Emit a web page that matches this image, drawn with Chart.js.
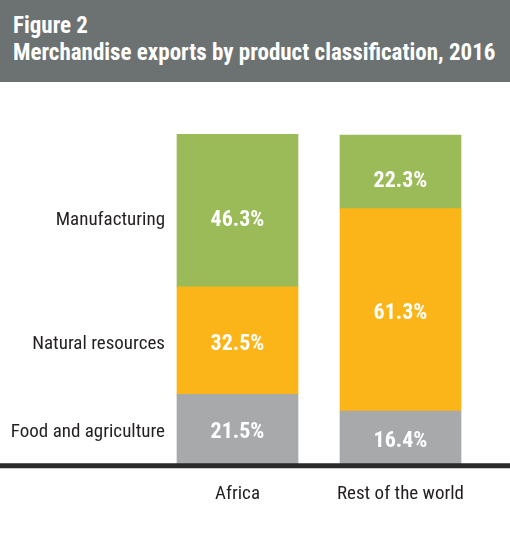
<!DOCTYPE html>
<html>
<head>
<meta charset="utf-8">
<script src="https://cdn.jsdelivr.net/npm/chart.js@4.4.1/dist/chart.umd.min.js"></script>
<style>
  body { margin: 0; background: #fff; }
  #header {
    width: 510px; height: 82px; background: #6c7171; color: #fff;
    font-family: 'Roboto Condensed', 'Roboto', sans-serif; font-stretch: condensed;
    font-weight: bold; font-size: 23px; line-height: 26.5px;
    box-sizing: border-box; padding: 13px 0 0 13px;
  }
  #wrap { width: 510px; height: 473px; position: relative; }
</style>
</head>
<body>
<div id="header">Figure 2<br>Merchandise exports by product classification, 2016</div>
<div id="wrap"><canvas id="myChart"></canvas></div>
<script>
// data
const regions = ['Africa', 'Rest of the world'];
const seriesNames = ['Food and agriculture', 'Natural resources', 'Manufacturing'];
const foodAgri = [21.5, 16.4];
const naturalRes = [32.5, 61.3];
const manufacturing = [46.3, 22.3];

const colors = ['#a7a9ab', '#fbb519', '#9bbb59'];
const labelNudge = [3, 4, 10]; // text sits a bit below segment centre
const FONT = "'Roboto Condensed', 'Roboto', sans-serif";

const segmentLabels = {
    id: 'segmentLabels',
    afterDatasetsDraw(chart) {
        const ctx = chart.ctx;
        ctx.save();
        chart.data.datasets.forEach((ds, i) => {
            const meta = chart.getDatasetMeta(i);
            meta.data.forEach((bar, j) => {
                const cy = (bar.y + bar.base) / 2 + labelNudge[i];
                ctx.fillStyle = '#ffffff';
                ctx.font = 'bold 22px ' + FONT;
                ctx.textAlign = 'center';
                ctx.textBaseline = 'middle';
                ctx.fillText(ds.data[j].toFixed(1) + '%', bar.x, cy);
                // series names to the left of the first bar
                if (j === 0) {
                    ctx.fillStyle = '#231f20';
                    ctx.font = '19px ' + FONT;
                    ctx.textAlign = 'right';
                    ctx.fillText(ds.label, bar.x - bar.width / 2 - 12, cy);
                }
            });
        });
        // thick base line across the full width
        const y0 = chart.scales.y.getPixelForValue(0);
        ctx.strokeStyle = '#2b2b2b';
        ctx.lineWidth = 5;
        ctx.beginPath();
        ctx.moveTo(0, y0 + 0.5);
        ctx.lineTo(chart.width, y0 + 0.5);
        ctx.stroke();
        ctx.restore();
    }
};

const totals = foodAgri.map((v, i) => v + naturalRes[i] + manufacturing[i]);

new Chart(document.getElementById('myChart').getContext('2d'), {
    type: 'bar',
    data: {
        labels: regions,
        datasets: [
            { label: seriesNames[0], data: foodAgri, backgroundColor: colors[0] },
            { label: seriesNames[1], data: naturalRes, backgroundColor: colors[1] },
            { label: seriesNames[2], data: manufacturing, backgroundColor: colors[2] }
        ]
    },
    options: {
        responsive: true,
        maintainAspectRatio: false,
        animation: false,
        layout: { padding: { top: 52, left: 156, right: 28, bottom: 31 } },
        datasets: { bar: { barThickness: 121, borderWidth: 0 } },
        scales: {
            x: {
                stacked: true,
                grid: { display: false, drawTicks: false },
                border: { display: false },
                ticks: { color: '#231f20', font: { family: FONT, size: 19 }, padding: 18 }
            },
            y: {
                stacked: true,
                display: false,
                min: 0,
                max: Math.max(...totals)
            }
        },
        plugins: {
            legend: { display: false },
            tooltip: { enabled: false }
        }
    },
    plugins: [segmentLabels]
});
</script>
</body>
</html>
